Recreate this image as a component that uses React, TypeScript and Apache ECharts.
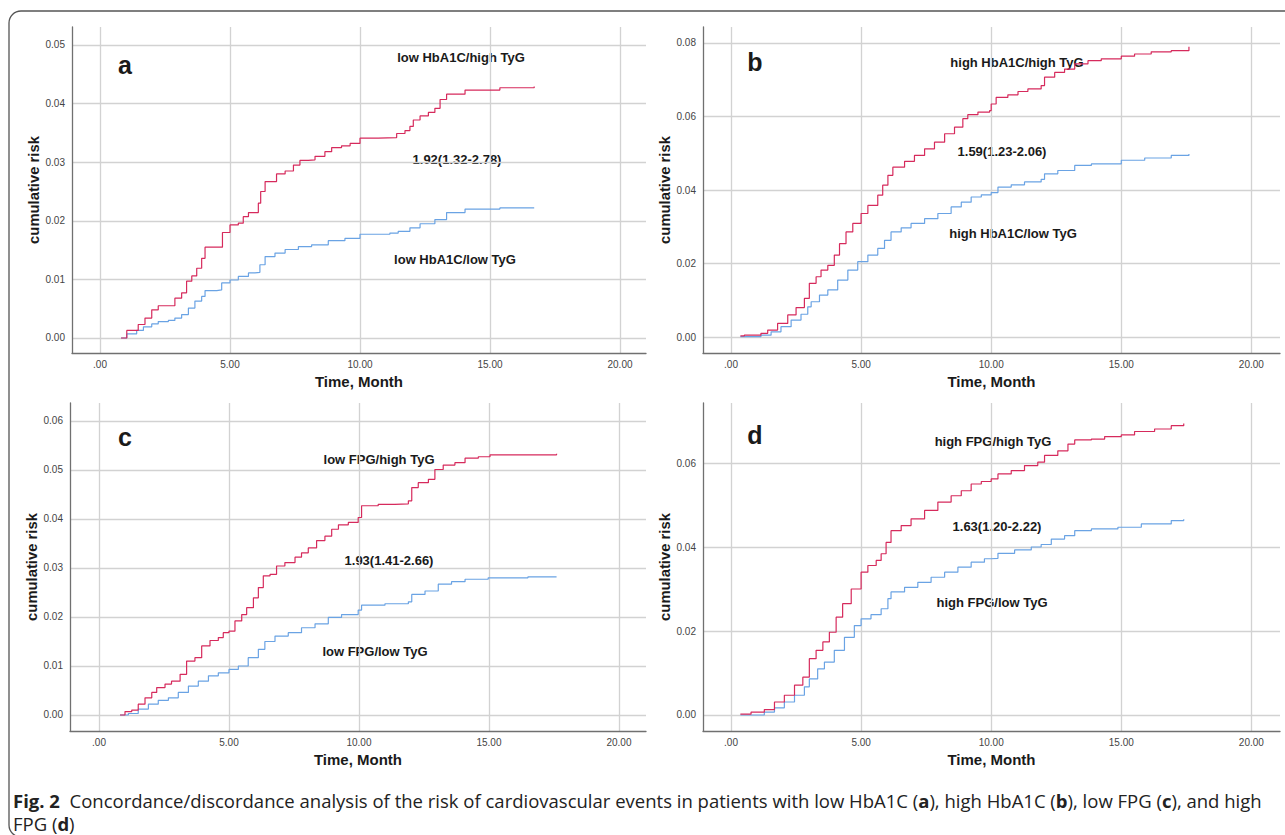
import React, { useEffect, useRef } from "react";
import * as echarts from "echarts";

// ---------- data (time in months, cumulative risk) ----------
const xTicks = [0, 5, 10, 15, 20];
const yTicksA = [0, 0.01, 0.02, 0.03, 0.04, 0.05];
const yTicksB = [0, 0.02, 0.04, 0.06, 0.08];
const yTicksC = [0, 0.01, 0.02, 0.03, 0.04, 0.05, 0.06];
const yTicksD = [0, 0.02, 0.04, 0.06];

const aHigh = [[0.81,0],[1.03,0.0013],[1.47,0.0023],[1.73,0.0034],[1.99,0.0048],[2.24,0.0055],[2.88,0.0068],[3.14,0.0077],[3.33,0.0097],[3.53,0.0106],[3.72,0.0119],[3.91,0.0136],[4.04,0.0155],[4.71,0.018],[5.0,0.0193],[5.32,0.0196],[5.51,0.0207],[5.71,0.0214],[6.09,0.023],[6.18,0.025],[6.35,0.0267],[6.79,0.028],[7.12,0.0285],[7.44,0.0295],[7.69,0.0303],[8.01,0.0304],[8.27,0.031],[8.65,0.0318],[8.91,0.0325],[9.29,0.0328],[9.62,0.0332],[10.0,0.0341],[10.7,0.0342],[11.41,0.0349],[11.73,0.0354],[11.92,0.0361],[12.05,0.0372],[12.31,0.0379],[12.63,0.0385],[12.88,0.0392],[13.08,0.0407],[13.33,0.0416],[14.04,0.0423],[15.38,0.0427],[16.7,0.0429]];
const aLow = [[0.81,0],[1.03,0.0007],[1.41,0.0013],[1.67,0.0019],[1.99,0.0024],[2.24,0.0028],[2.63,0.003],[2.88,0.0034],[3.14,0.004],[3.4,0.0051],[3.65,0.0063],[3.91,0.0071],[4.04,0.0081],[4.49,0.0082],[4.68,0.0094],[5.0,0.0099],[5.32,0.0105],[5.71,0.0111],[5.96,0.0112],[6.15,0.0125],[6.35,0.0139],[6.73,0.0145],[7.12,0.0151],[7.63,0.0156],[8.14,0.0159],[8.78,0.0166],[9.42,0.017],[10.0,0.0177],[11.15,0.0179],[11.47,0.0182],[11.92,0.0188],[12.31,0.0195],[12.88,0.0202],[13.33,0.0214],[14.04,0.022],[15.38,0.0222],[16.7,0.0223]];

const bHigh = [[0.36,0.0003],[0.51,0.0005],[1.15,0.001],[1.41,0.0019],[1.79,0.0037],[2.18,0.006],[2.5,0.008],[2.82,0.0105],[3.01,0.0146],[3.27,0.0164],[3.46,0.0182],[3.72,0.0195],[3.97,0.0223],[4.17,0.0254],[4.42,0.0286],[4.68,0.0309],[5.0,0.0336],[5.26,0.0358],[5.64,0.0386],[5.83,0.0413],[6.03,0.044],[6.22,0.0462],[6.67,0.0478],[7.05,0.0494],[7.44,0.0512],[7.82,0.053],[8.21,0.0553],[8.59,0.0571],[8.91,0.0594],[9.1,0.0605],[9.49,0.0612],[9.94,0.0616],[10.0,0.0634],[10.19,0.0652],[10.64,0.0659],[11.03,0.0668],[11.41,0.0675],[11.92,0.0684],[12.05,0.0707],[12.44,0.072],[12.82,0.0729],[13.21,0.0743],[13.72,0.0752],[14.23,0.0757],[15.0,0.0764],[15.51,0.077],[16.15,0.0776],[16.92,0.0779],[17.6,0.079]];
const bLow = [[0.36,0.0001],[1.15,0.0005],[1.54,0.0014],[1.92,0.0028],[2.31,0.0046],[2.69,0.0062],[2.95,0.0082],[3.08,0.0096],[3.4,0.0114],[3.72,0.0128],[4.1,0.0155],[4.49,0.0182],[4.87,0.0205],[5.26,0.0223],[5.64,0.0241],[5.9,0.0263],[6.15,0.0286],[6.54,0.0297],[6.92,0.0309],[7.44,0.0322],[7.95,0.0336],[8.46,0.0354],[8.85,0.0367],[9.23,0.0381],[9.62,0.0387],[10.0,0.0393],[10.26,0.0408],[10.77,0.0414],[11.28,0.0422],[11.92,0.0429],[12.05,0.0444],[12.56,0.0453],[13.21,0.0467],[13.85,0.0471],[15.0,0.0481],[15.9,0.0487],[16.92,0.0494],[17.6,0.0498]];

const cHigh = [[0.81,0],[1.0,0.0007],[1.26,0.001],[1.51,0.0022],[1.77,0.0035],[2.03,0.0046],[2.22,0.0056],[2.54,0.0063],[2.79,0.0069],[3.12,0.0083],[3.37,0.011],[3.69,0.0117],[3.95,0.0141],[4.27,0.0152],[4.59,0.0158],[4.78,0.0168],[5.0,0.0171],[5.23,0.0192],[5.49,0.0205],[5.68,0.0219],[5.94,0.0239],[6.13,0.026],[6.32,0.0284],[6.58,0.0287],[6.83,0.0304],[7.15,0.0311],[7.54,0.0322],[7.79,0.0331],[8.05,0.0341],[8.37,0.0356],[8.69,0.0365],[8.95,0.0379],[9.21,0.0388],[9.59,0.0393],[9.97,0.0403],[10.1,0.0427],[10.74,0.043],[11.38,0.0431],[11.9,0.0437],[12.03,0.0464],[12.28,0.0474],[12.67,0.0481],[12.92,0.0501],[13.24,0.051],[13.69,0.0515],[14.08,0.0524],[14.59,0.0527],[15.04,0.0531],[17.6,0.0533]];
const cLow = [[0.81,0],[1.13,0.0003],[1.51,0.0012],[1.9,0.0022],[2.28,0.003],[2.67,0.0035],[3.05,0.0046],[3.44,0.0059],[3.82,0.0069],[4.21,0.008],[4.59,0.0086],[5.0,0.0093],[5.36,0.01],[5.74,0.0117],[6.13,0.0134],[6.38,0.015],[6.77,0.0161],[7.28,0.0168],[7.79,0.0178],[8.31,0.0186],[8.82,0.0199],[9.33,0.0205],[9.97,0.0214],[10.1,0.0224],[11.0,0.0227],[11.9,0.0231],[12.03,0.0246],[12.54,0.0253],[13.05,0.0267],[13.56,0.0272],[14.08,0.0277],[14.97,0.028],[16.5,0.0282],[17.6,0.0282]];

const dHigh = [[0.36,0.0002],[0.77,0.0007],[1.28,0.0013],[1.67,0.0031],[2.05,0.0047],[2.44,0.0071],[2.76,0.009],[3.01,0.0134],[3.27,0.0154],[3.53,0.0174],[3.78,0.0197],[4.04,0.0233],[4.29,0.0265],[4.62,0.03],[5.0,0.034],[5.26,0.0356],[5.58,0.0368],[5.77,0.0384],[5.96,0.0411],[6.15,0.0439],[6.54,0.0451],[6.92,0.0467],[7.44,0.0487],[7.95,0.0507],[8.46,0.0522],[8.85,0.0534],[9.23,0.055],[9.62,0.0556],[10.0,0.0562],[10.26,0.0574],[10.77,0.0582],[11.28,0.0594],[11.79,0.0602],[12.05,0.0618],[12.56,0.0629],[12.95,0.0645],[13.21,0.0655],[13.85,0.0657],[14.36,0.0663],[15.0,0.0667],[15.51,0.0675],[16.28,0.0681],[16.92,0.0689],[17.4,0.0694]];
const dLow = [[0.36,0],[1.28,0.0007],[1.67,0.0017],[2.05,0.0031],[2.44,0.0047],[2.82,0.0067],[3.01,0.0086],[3.33,0.011],[3.59,0.0126],[3.97,0.0154],[4.36,0.0185],[4.74,0.0213],[5.0,0.0229],[5.38,0.0239],[5.77,0.0253],[6.03,0.0277],[6.15,0.0293],[6.67,0.0304],[7.18,0.0316],[7.69,0.0328],[8.21,0.034],[8.72,0.0352],[9.23,0.0364],[9.74,0.0372],[10.0,0.0373],[10.26,0.0385],[10.9,0.0393],[11.54,0.04],[11.92,0.0406],[12.31,0.0419],[12.82,0.0427],[13.21,0.0439],[13.85,0.0443],[14.87,0.0447],[15.77,0.0455],[16.92,0.0463],[17.4,0.0466]];

const panelLetters = ["a", "b", "c", "d"];
const highLabels = ["low HbA1C/high TyG", "high HbA1C/high TyG", "low FPG/high TyG", "high FPG/high TyG"];
const lowLabels = ["low HbA1C/low TyG", "high HbA1C/low TyG", "low FPG/low TyG", "high FPG/low TyG"];
const hrLabels = ["1.92(1.32-2.78)", "1.59(1.23-2.06)", "1.93(1.41-2.66)", "1.63(1.20-2.22)"];

const RED = "#d62a5c";
const BLUE = "#6aa3e4";
const GRID = "#d2d2d2";
const AXIS = "#707070";

// layout (pixels) per panel
const panels = [
  { grid: { left: 72, top: 27, width: 574, height: 326 }, xMin: -1.077, xMax: 21.0, yMin: -0.00256, yMax: 0.05307, yTicks: yTicksA, high: aHigh, low: aLow,
    letter: [125, 65], hi: [461, 57], hr: [457, 159], lo: [455, 259] },
  { grid: { left: 703, top: 27, width: 577, height: 326 }, xMin: -1.077, xMax: 21.1, yMin: -0.00435, yMax: 0.08435, yTicks: yTicksB, high: bHigh, low: bLow,
    letter: [755, 62], hi: [1017, 62], hr: [1002, 151], lo: [1013, 233] },
  { grid: { left: 70, top: 403, width: 576, height: 328 }, xMin: -1.115, xMax: 21.04, yMin: -0.00327, yMax: 0.06367, yTicks: yTicksC, high: cHigh, low: cLow,
    letter: [125, 437], hi: [379, 459], hr: [389, 560], lo: [375, 651] },
  { grid: { left: 703, top: 403, width: 577, height: 328 }, xMin: -1.077, xMax: 21.1, yMin: -0.00381, yMax: 0.07429, yTicks: yTicksD, high: dHigh, low: dLow,
    letter: [755, 435], hi: [993, 441], hr: [997, 526], lo: [992, 602] },
];

export default function App() {
  const ref = useRef<HTMLDivElement>(null);
  useEffect(() => {
    if (!ref.current) return;
    const chart = echarts.init(ref.current, null, { renderer: "svg" });

    const grids: any[] = [];
    const xAxes: any[] = [];
    const yAxes: any[] = [];
    const series: any[] = [];
    const graphics: any[] = [];

    panels.forEach((p, i) => {
      grids.push({ ...p.grid, containLabel: false });
      xAxes.push({
        type: "value", gridIndex: i, min: p.xMin, max: p.xMax,
        axisLine: { show: true, onZero: false, lineStyle: { color: AXIS, width: 1.3 } },
        axisTick: { show: false, customValues: xTicks },
        axisLabel: {
          customValues: xTicks, margin: 6, fontSize: 10, color: "#444", fontFamily: "Liberation Sans",
          formatter: (v: number) => (v === 0 ? ".00" : v.toFixed(2)),
        },
        splitLine: { show: true, lineStyle: { color: GRID, width: 1.3 } },
        name: "Time, Month", nameLocation: "middle", nameGap: 21,
        nameTextStyle: { fontFamily: "Liberation Sans", fontWeight: "bold", fontSize: 15, color: "#1a1a1a" },
      });
      yAxes.push({
        type: "value", gridIndex: i, min: p.yMin, max: p.yMax,
        axisLine: { show: true, onZero: false, lineStyle: { color: AXIS, width: 1.3 } },
        axisTick: { show: false, customValues: p.yTicks },
        axisLabel: {
          customValues: p.yTicks, margin: 7, fontSize: 10, color: "#444", fontFamily: "Liberation Sans",
          formatter: (v: number) => v.toFixed(2),
        },
        splitLine: { show: true, lineStyle: { color: GRID, width: 1.3 } },
        name: "cumulative risk", nameLocation: "middle", nameGap: 28,
        nameTextStyle: { fontFamily: "Liberation Sans", fontWeight: "bold", fontSize: 14.8, color: "#1a1a1a" },
      });
      series.push({
        type: "line", xAxisIndex: i, yAxisIndex: i, data: p.low, step: "end", symbol: "none",
        lineStyle: { color: BLUE, width: 1.2 }, silent: true,
      });
      series.push({
        type: "line", xAxisIndex: i, yAxisIndex: i, data: p.high, step: "end", symbol: "none",
        lineStyle: { color: RED, width: 1.2 }, silent: true,
      });

      const txt = (s: string, pos: number[], font: string) => ({
        type: "text", x: pos[0], y: pos[1], silent: true,
        style: { text: s, font, fill: "#1a1a1a", textAlign: "center", textVerticalAlign: "middle" },
      });
      graphics.push(txt(panelLetters[i], p.letter, "bold 25px 'Liberation Sans'"));
      graphics.push(txt(highLabels[i], p.hi, "bold 13px 'Liberation Sans'"));
      graphics.push(txt(hrLabels[i], p.hr, "bold 13px 'Liberation Sans'"));
      graphics.push(txt(lowLabels[i], p.lo, "bold 13px 'Liberation Sans'"));
    });

    graphics.push({
      type: "rect", silent: true, z: -10,
      shape: { x: 9, y: 11, width: 1300, height: 826, r: 12 },
      style: { fill: "none", stroke: "#555", lineWidth: 1.3 },
    });
    const CAP = 18.5;
    const LH = 21;
    const capRich = {
      b: { fontFamily: "Open Sans", fontSize: CAP, fontWeight: "bold", fill: "#222", lineHeight: LH },
      n: { fontFamily: "Open Sans", fontSize: CAP, fill: "#222", lineHeight: LH },
    };
    graphics.push({
      type: "text", x: 13, y: 800, silent: true,
      style: {
        text: "{b|Fig. 2}{n|  Concordance/discordance analysis of the risk of cardiovascular events in patients with low HbA1C (}{b|a}{n|), high HbA1C (}{b|b}{n|), low FPG (}{b|c}{n|), and high}",
        fontFamily: "Open Sans", fontSize: CAP, lineHeight: LH, fill: "#222", textVerticalAlign: "middle",
        rich: capRich,
      },
    });
    graphics.push({
      type: "text", x: 13, y: 823, silent: true,
      style: {
        text: "{n|FPG (}{b|d}{n|)}", fontFamily: "Open Sans", fontSize: CAP, lineHeight: LH, fill: "#222", textVerticalAlign: "middle",
        rich: capRich,
      },
    });

    chart.setOption({
      animation: false,
      backgroundColor: "#ffffff",
      grid: grids,
      xAxis: xAxes,
      yAxis: yAxes,
      series,
      graphic: graphics,
    });
    return () => chart.dispose();
  }, []);
  return <div ref={ref} style={{ position: "fixed", left: 0, top: 0, width: 1285, height: 835 }} />;
}
